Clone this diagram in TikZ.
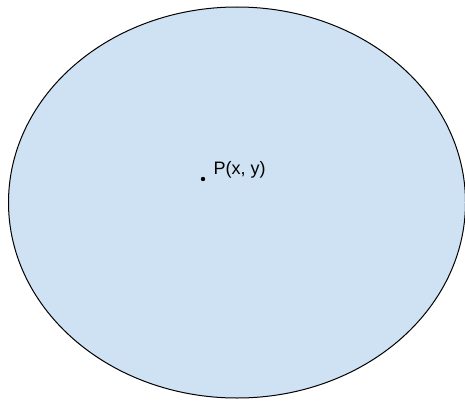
\documentclass[tikz,border=0pt]{standalone}
\usepackage{fontspec}
\setmainfont{Liberation Sans}
\begin{document}
\begin{tikzpicture}[
    x=1pt, y=-1pt,
    region/.style={draw=black, line width=1pt, fill=regionblue},
    pointlabel/.style={font=\fontsize{18}{21}\selectfont, inner sep=0pt, anchor=base west}
]
\definecolor{regionblue}{HTML}{CFE2F3}
\useasboundingbox (0,0) rectangle (465,401);
% Region
\draw[region] (237,202.5) ellipse (228.5 and 195.5);
% Point
\coordinate (p) at (203,179);
\fill (p) circle (2.2);
\node[pointlabel] (plabel) at (213.5,174.7) {P(x, y)};
\end{tikzpicture}
\end{document}
